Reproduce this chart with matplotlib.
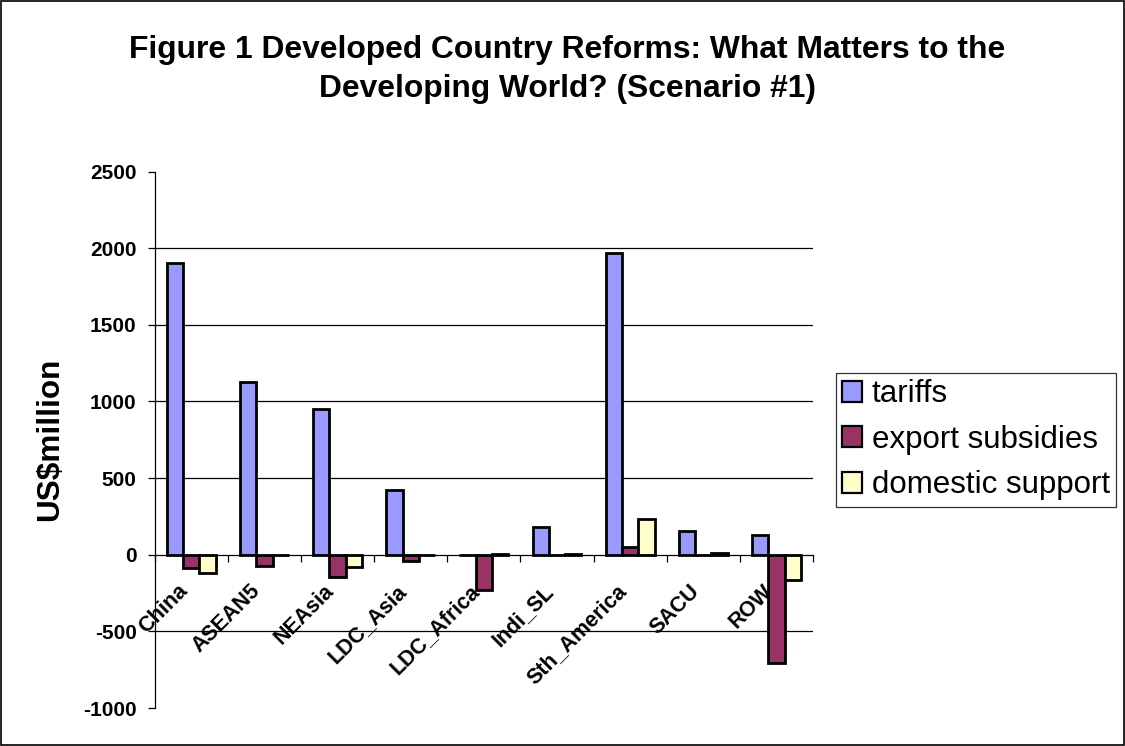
import numpy as np
import matplotlib
matplotlib.use("Agg")
import matplotlib.pyplot as plt
from matplotlib.patches import Rectangle

plt.rcParams['font.family'] = ['Liberation Sans', 'DejaVu Sans']
plt.rcParams['axes.unicode_minus'] = False

# data (US$ million)
regions = ['China', 'ASEAN5', 'NEAsia', 'LDC_Asia', 'LDC_Africa',
           'Indi_SL', 'Sth_America', 'SACU', 'ROW']
tariffs = [1900, 1130, 950, 425, -3, 182, 1970, 154, 132]
export_subsidies = [-87, -74, -143, -39, -231, 0, 50, -3, -709]
domestic_support = [-117, -3, -83, 0, 3, 5, 230, 10, -163]

series_names = ['tariffs', 'export subsidies', 'domestic support']
series_colors = ['#9999FF', '#993366', '#FFFFCC']

fig = plt.figure(figsize=(11.25, 7.46), dpi=100)
ax = fig.add_axes([0.1375, 0.0509, 0.7227 - 0.1375, 0.7701 - 0.0509])

x = np.arange(len(regions))
w = 1 / 4.5
series = [tariffs, export_subsidies, domestic_support]
for k, vals in enumerate(series):
    ax.bar(x + (k - 1) * w, vals, width=w, color=series_colors[k],
           edgecolor='black', linewidth=2.0, label=series_names[k], zorder=3)

ax.set_ylim(-1000, 2500)
ax.set_xlim(-0.5, len(regions) - 0.5)
ax.set_yticks(np.arange(-1000, 2501, 500))
for g in [-500, 500, 1000, 1500, 2000]:
    ax.axhline(g, color='black', linewidth=0.9, zorder=1)

for s in ['top', 'right']:
    ax.spines[s].set_visible(False)
ax.spines['bottom'].set_position(('data', 0))
ax.spines['bottom'].set_zorder(4)
ax.spines['left'].set_linewidth(0.9)
ax.spines['bottom'].set_linewidth(0.9)

ax.set_xticks(np.arange(-0.5, len(regions), 1.0))
ax.set_xticklabels([])
ax.tick_params(axis='x', direction='out', length=5, width=0.9)
ax.tick_params(axis='y', direction='out', length=5, width=0.9, pad=8,
               labelsize=15)
for lab in ax.get_yticklabels():
    lab.set_fontweight('bold')

for i, name in enumerate(regions):
    ax.annotate(name, xy=(i, 0), xytext=(-5, -24), textcoords='offset points',
                rotation=45, rotation_mode='anchor', ha='right', va='center',
                fontsize=15.5, fontweight='bold', annotation_clip=False)

fig.text(0.0444, 0.4115, 'US$million', rotation=90, ha='center', va='center',
         fontsize=22.7, fontweight='bold')

fig.text(0.5044, 1 - 58.3 / 746, 'Figure 1 Developed Country Reforms: What Matters to the',
         ha='center', va='baseline', fontsize=22.9, fontweight='bold')
fig.text(0.5044, 1 - 96.7 / 746, 'Developing World? (Scenario #1)',
         ha='center', va='baseline', fontsize=22.9, fontweight='bold')

leg = ax.legend(loc='upper left', bbox_to_anchor=(0.743, 0.5),
                bbox_transform=fig.transFigure, fontsize=22.5, frameon=True,
                fancybox=False, borderaxespad=0, handlelength=0.65,
                handleheight=0.65, handletextpad=0.3, labelspacing=0.5,
                borderpad=0.2)
leg.get_frame().set_edgecolor('black')
leg.get_frame().set_linewidth(0.9)
for h in leg.legend_handles:
    h.set_linewidth(1.6)

fig.patches.append(Rectangle((0.001, 0.001), 0.998, 0.998, transform=fig.transFigure,
                             fill=False, edgecolor='black', linewidth=1.2))

fig.savefig('out.png', dpi=100)
